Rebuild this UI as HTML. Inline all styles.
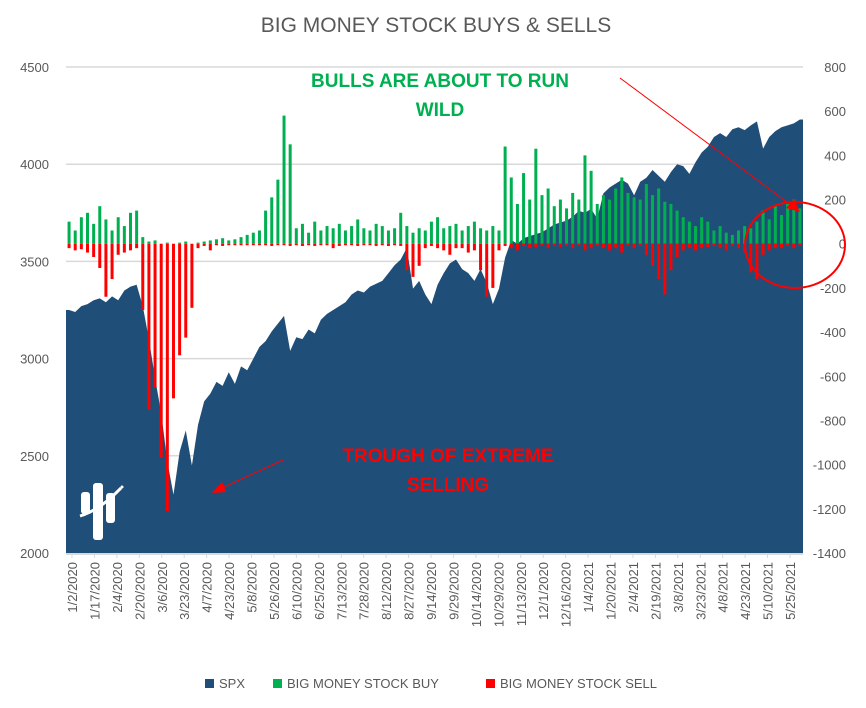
<!DOCTYPE html>
<html><head><meta charset="utf-8"><style>
body{margin:0;background:#fff;}
svg text{font-family:"Liberation Sans",sans-serif;}
</style></head><body>
<svg id="chart" width="866" height="703" xmlns="http://www.w3.org/2000/svg">
<rect width="866" height="703" fill="#fff"/>
<text x="436" y="32" text-anchor="middle" font-size="21" fill="#595959">BIG MONEY STOCK BUYS &amp; SELLS</text>
<g id="grid"></g>
<g id="area"></g>
<g id="bars"></g>
<g id="axes"></g>
<g fill="#fff">
<rect x="81" y="492" width="9" height="22" rx="3"/><rect x="93" y="483" width="10" height="57" rx="3"/><rect x="106" y="493" width="9" height="30" rx="3"/>
<path d="M80 516 Q100 510 121 488" stroke="#fff" stroke-width="3" fill="none"/><circle cx="122" cy="487" r="1.5"/>
</g>
<text font-weight="bold" font-size="19" fill="#00B050" text-anchor="middle"><tspan x="440" y="87">BULLS ARE ABOUT TO RUN</tspan><tspan x="440" y="116">WILD</tspan></text>
<text font-weight="bold" font-size="19" fill="#FF0000" text-anchor="middle"><tspan x="448" y="462">TROUGH OF EXTREME</tspan><tspan x="448" y="491">SELLING</tspan></text>
<line x1="283" y1="460" x2="222" y2="488" stroke="#f00" stroke-width="1"/>
<polygon points="212,493 222,482 226,492" fill="#f00"/>
<line x1="620" y1="78" x2="792" y2="206" stroke="#f00" stroke-width="1"/>
<polygon points="800,212 786,208 794,199" fill="#f00"/>
<ellipse cx="795" cy="245" rx="50" ry="43" fill="none" stroke="#f00" stroke-width="2"/>
<g font-size="13" fill="#595959">
<rect x="205" y="679" width="9" height="9" fill="#1F4E79"/><text x="219" y="688">SPX</text>
<rect x="273" y="679" width="9" height="9" fill="#00B050"/><text x="287" y="688">BIG MONEY STOCK BUY</text>
<rect x="486" y="679" width="9" height="9" fill="#FF0000"/><text x="500" y="688">BIG MONEY STOCK SELL</text>
</g>
</svg>
<script>
const spx=[3250,3240,3270,3280,3300,3310,3290,3320,3300,3350,3370,3380,3270,3100,2900,2720,2470,2300,2520,2630,2450,2660,2780,2820,2880,2860,2930,2870,2960,2940,3000,3060,3090,3140,3180,3220,3040,3110,3100,3150,3130,3200,3230,3250,3270,3290,3330,3350,3340,3370,3385,3400,3440,3480,3510,3570,3360,3400,3330,3280,3380,3440,3490,3510,3460,3440,3400,3460,3390,3280,3360,3520,3610,3590,3620,3630,3640,3650,3670,3690,3700,3710,3730,3760,3750,3770,3720,3850,3880,3900,3920,3900,3840,3910,3930,3970,3940,3910,3960,4000,3990,3950,4010,4060,4090,4140,4160,4140,4180,4190,4175,4200,4220,4080,4140,4170,4190,4200,4210,4230];
const buys=[100,60,120,140,90,170,110,60,120,80,140,150,30,10,15,0,5,0,5,10,0,5,10,15,20,25,15,20,30,40,50,60,150,210,290,580,450,70,90,50,100,60,80,70,90,60,80,110,70,60,90,80,60,70,140,80,50,70,60,100,120,70,80,90,60,80,100,70,60,80,60,440,300,180,320,200,430,220,250,170,200,160,230,200,400,330,180,220,200,250,300,230,210,200,270,220,250,190,180,150,120,100,80,120,100,60,80,50,40,60,80,70,100,150,110,170,130,180,200,160];
const sells=[-20,-30,-25,-40,-60,-110,-240,-160,-50,-40,-30,-20,-300,-750,-650,-970,-1210,-700,-505,-425,-290,-20,-10,-30,-5,-10,-5,-5,0,-5,-5,-5,-5,-10,-5,-5,-10,-5,-10,-5,-10,-5,-5,-20,-10,-5,-5,-10,-5,-5,-10,-5,-10,-5,-10,-120,-150,-100,-20,-10,-20,-30,-50,-20,-20,-40,-30,-120,-240,-200,-30,-10,-20,-30,-10,-20,-15,-10,-20,-10,-15,-10,-20,-10,-30,-20,-10,-20,-30,-20,-40,-10,-20,-10,-50,-100,-160,-230,-120,-60,-30,-20,-30,-20,-15,-10,-20,-30,-10,-20,-40,-130,-160,-50,-30,-20,-20,-10,-20,-10];
const leftTicks=[4500,4000,3500,3000,2500,2000];
const rightTicks=[800,600,400,200,0,-200,-400,-600,-800,-1000,-1200,-1400];
const dateLabels=["1/2/2020","1/17/2020","2/4/2020","2/20/2020","3/6/2020","3/23/2020","4/7/2020","4/23/2020","5/8/2020","5/26/2020","6/10/2020","6/25/2020","7/13/2020","7/28/2020","8/12/2020","8/27/2020","9/14/2020","9/29/2020","10/14/2020","10/29/2020","11/13/2020","12/1/2020","12/16/2020","1/4/2021","1/20/2021","2/4/2021","2/19/2021","3/8/2021","3/23/2021","4/8/2021","4/23/2021","5/10/2021","5/25/2021"];
const NS="http://www.w3.org/2000/svg";
const X0=66,X1=803,YT=67,YB=553;
const yL=v=>YT+(4500-v)*(YB-YT)/2500;
const yR=v=>YT+(800-v)*(YB-YT)/2200;
const step=(X1-X0)/spx.length;
const xI=i=>X0+step*(i+0.5);
function mk(tag,attrs,parent){const e=document.createElementNS(NS,tag);for(const k in attrs)e.setAttribute(k,attrs[k]);document.getElementById(parent).appendChild(e);return e;}
leftTicks.forEach(t=>{
  if(t>2000){const g=mk('line',{x1:X0,x2:X1,y1:yL(t),y2:yL(t),stroke:'#d9d9d9','stroke-width':1.5},'grid');
  
  }
  const tx=mk('text',{x:49,y:yL(t)+5,'text-anchor':'end','font-size':13,fill:'#595959'},'axes');tx.textContent=t;
  
  
});
rightTicks.forEach(t=>{
  const tx=mk('text',{x:846,y:yR(t)+5,'text-anchor':'end','font-size':13,fill:'#595959'},'axes');tx.textContent=t;
  
  
});
let d=`M${X0},${YB}L${X0},${yL(spx[0])}`;
spx.forEach((v,i)=>{d+=`L${xI(i)},${yL(v)}`;});
d+=`L${X1},${yL(spx[spx.length-1])}L${X1},${YB}Z`;
const area=mk('path',{d:d,fill:'#1F4E79'},'area');


const z=yR(0);
buys.forEach((v,i)=>{
  const b=mk('rect',{x:xI(i)-1.5,y:yR(v),width:3,height:Math.max(0,z-yR(v)),fill:'#00B050'},'bars');
  
  
});
sells.forEach((v,i)=>{
  const b=mk('rect',{x:xI(i)-1.5,y:z,width:3,height:Math.max(1.5,yR(v)-z),fill:'#FF0000'},'bars');
  
  
});
const ax=mk('line',{x1:X0,x2:X1,y1:YB+1,y2:YB+1,stroke:'#d9d9d9','stroke-width':2},'axes');


dateLabels.forEach((s,i)=>{
  const x=X0+6+i*((790-72)/32);
  const tk=mk('line',{x1:x,x2:x,y1:YB,y2:YB+5,stroke:'#d9d9d9'},'axes');
  
  
  const tx=mk('text',{x:0,y:0,'text-anchor':'end','font-size':13,fill:'#595959',transform:`translate(${x+5},${YB+9}) rotate(-90)`},'axes');
  tx.textContent=s;
  
  
});
</script>
</body></html>
